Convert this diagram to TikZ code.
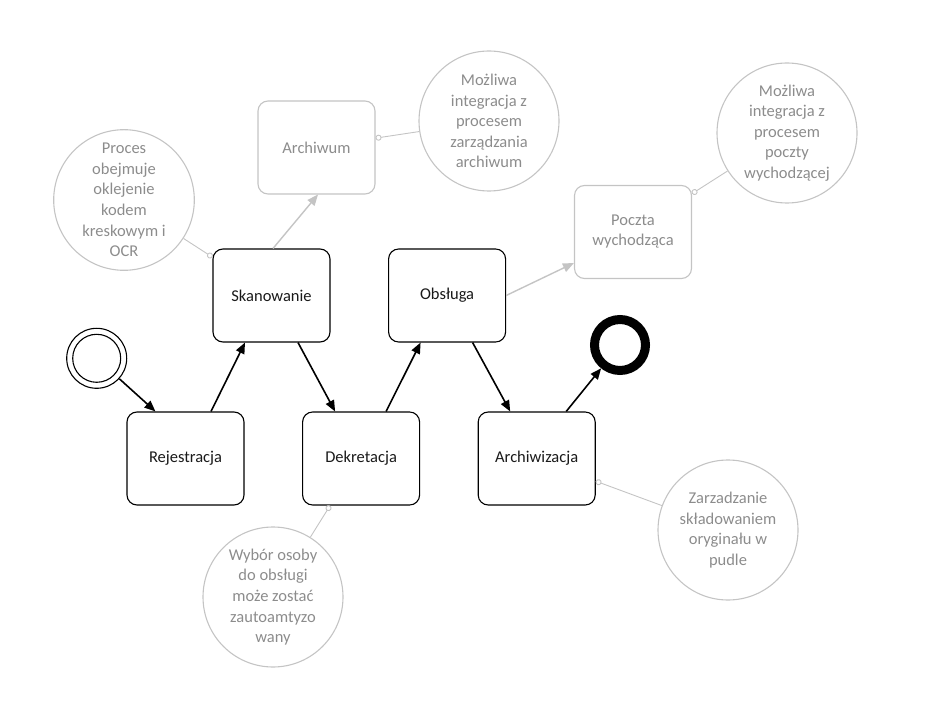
\documentclass[tikz,border=0pt]{standalone}
\usepackage{fontspec}
\setmainfont{Carlito}
\usepackage{tikz}
\usetikzlibrary{arrows.meta, positioning}
\definecolor{linegray}{HTML}{C4C4C4}
\definecolor{textgray}{HTML}{8C8C8C}
\definecolor{ink}{HTML}{1A1A1A}

\begin{document}
\begin{tikzpicture}[x=1pt, y=-1pt]
\tikzset{
  task/.style={
    draw=black,
    rectangle,
    rounded corners=10pt,
    line width=1.1pt,
    fill=white,
    minimum width=117pt,
    minimum height=93pt,
    align=center,
    text=ink,
    font=\fontsize{16.5}{20}\selectfont
  },
  ghost/.style={
    task,
    draw=linegray,
    text=textgray
  },
  note/.style={
    draw=linegray,
    circle,
    line width=1.1pt,
    minimum size=140pt,
    inner sep=0pt,
    align=center,
    text=textgray,
    font=\fontsize{16.5}{20.6}\selectfont
  },
  flow/.style={-{Triangle[length=11pt, width=9pt]}, line width=1.6pt},
  gflow/.style={flow, draw=linegray, line width=1.4pt},
  assoc/.style={{Circle[open, length=6pt, width=6pt]}-, draw=linegray, line width=0.9pt}
}
\useasboundingbox (0,0) rectangle (936,708);

% Start and end events
\node[draw, circle, line width=1.1pt, minimum size=60pt, inner sep=0pt] (start) at (96.7,358.3) {};
\node[draw, circle, line width=1.1pt, minimum size=48pt, inner sep=0pt] (startin) at (start) {};
\node[draw, circle, line width=9pt, minimum size=51pt, inner sep=0pt] (stop) at (620,345) {};

% Main tasks
\node[task] (rej) at (185.5,458.5) {Rejestracja};
\node[task, right=57.5pt of rej] (dek) {Dekretacja};
\node[task, right=57.5pt of dek] (archz) {Archiwizacja};
\node[task] (skan) at (271.5,295.5) {Skanowanie};
\node[task, right=57.5pt of skan] (obs) {Obsługa};

% Optional tasks
\node[ghost] (archiwum) at (316.5,147.5) {Archiwum};
\node[ghost] (poczta) at (633,232) {Poczta\\wychodząca};

% Notes
\node[note] (nproc) at (124,200) {Proces\\obejmuje\\oklejenie\\kodem\\kreskowym i\\OCR};
\node[note] (narch) at (489,121) {Możliwa\\integracja z\\procesem\\zarządzania\\archiwum};
\node[note] (npoczta) at (787,133) {Możliwa\\integracja z\\procesem\\poczty\\wychodzącej};
\node[note] (nwybor) at (273,597) {Wybór osoby\\do obsługi\\może zostać\\zautoamtyzo\\wany};
\node[note] (nzarz) at (728,530) {Zarzadzanie\\składowaniem\\oryginału w\\pudle};

% Sequence flow
\draw[flow] (start) -- ([xshift=29pt]rej.north west);
\draw[flow] ([xshift=25.5pt]rej.north) -- ([xshift=-26.5pt]skan.south);
\draw[flow] ([xshift=26.5pt]skan.south) -- ([xshift=-26pt]dek.north);
\draw[flow] ([xshift=25pt]dek.north) -- ([xshift=-26.5pt]obs.south);
\draw[flow] ([xshift=25.5pt]obs.south) -- ([xshift=-26.5pt]archz.north);
\draw[flow] ([xshift=29.5pt]archz.north) -- (stop);

% Optional flow
\draw[gflow] ([xshift=1.5pt]skan.north) -- ([xshift=1.5pt]archiwum.south);
\draw[gflow] (obs.east) -- ([yshift=-31pt]poczta.west);

% Associations
\draw[assoc] (skan.147) -- (nproc);
\draw[assoc] (archiwum.9) -- (narch);
\draw[assoc] (poczta.33) -- (npoczta);
\draw[assoc] ([xshift=-31pt]dek.south) -- (nwybor);
\draw[assoc] (archz.-21) -- (nzarz);

\end{tikzpicture}
\end{document}
